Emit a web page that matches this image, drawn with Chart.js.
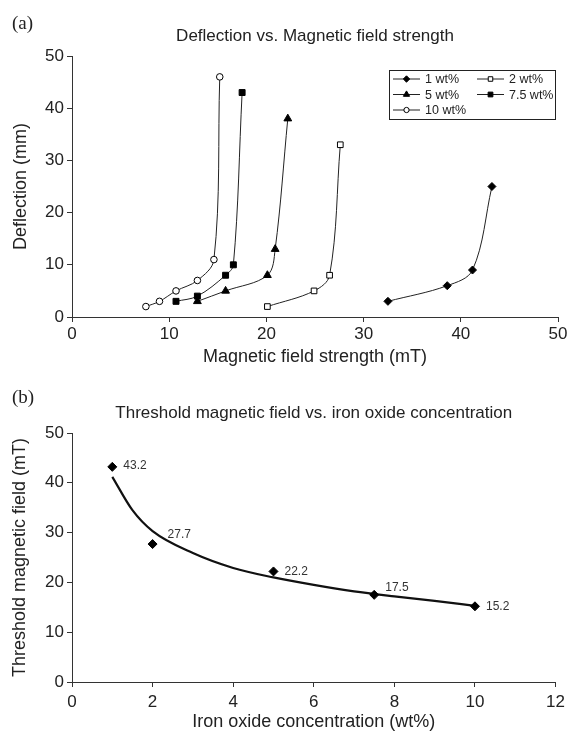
<!DOCTYPE html>
<html>
<head>
<meta charset="utf-8">
<script src="https://cdn.jsdelivr.net/npm/chart.js@4.4.1/dist/chart.umd.min.js"></script>
<style>
  body { margin: 0; background: #fff; }
  canvas { display: block; }
</style>
</head>
<body>
<canvas id="chartA" width="570" height="370"></canvas>
<canvas id="chartB" width="570" height="364"></canvas>
<script>
// (a) deflection vs field, one pair of arrays per concentration
const field1 = [32.5, 38.6, 41.2, 43.2];
const defl1 = [3, 6, 9, 25];
const field2 = [20.1, 24.9, 26.5, 27.6];
const defl2 = [2, 5, 8, 33];
const field5 = [12.9, 15.8, 20.1, 20.9, 22.2];
const defl5 = [3, 5, 8, 13, 38];
const field75 = [10.7, 12.9, 15.8, 16.6, 17.5];
const defl75 = [3, 4, 8, 10, 43];
const field10 = [7.6, 9.0, 10.7, 12.9, 14.6, 15.2];
const defl10 = [2, 3, 5, 7, 11, 46];
const seriesNames = ["1 wt%", "2 wt%", "5 wt%", "7.5 wt%", "10 wt%"];

// (b) threshold field vs concentration
const concentration = [1, 2, 5, 7.5, 10];
const thresholdField = [43.2, 27.7, 22.2, 17.5, 15.2];
const trendX = [1, 1.5, 2, 3, 4, 5, 6, 7, 8, 9, 10];
const trendY = [41.2, 34.5, 30.3, 25.9, 22.9, 21.0, 19.5, 18.2, 17.2, 16.3, 15.3];

const FONT = '"Liberation Sans", Arial, sans-serif';
const INK = "#222";
Chart.defaults.font.family = FONT;
Chart.defaults.color = INK;

const pairs = (xs, ys) => xs.map((x, i) => ({ x: x, y: ys[i] }));

// title + panel tag drawn above the plot area
const headerPlugin = {
  id: "header",
  afterDraw(chart, args, opts) {
    const ctx = chart.ctx;
    const area = chart.chartArea;
    ctx.save();
    ctx.fillStyle = INK;
    ctx.textBaseline = "alphabetic";
    ctx.textAlign = "center";
    ctx.font = "17px " + FONT;
    ctx.fillText(opts.text, (area.left + area.right) / 2, area.top - 15);
    ctx.textAlign = "left";
    ctx.font = '19px "Liberation Serif", "Times New Roman", serif';
    ctx.fillText(opts.tag, 12, opts.tagY);
    ctx.restore();
  }
};

// boxed legend, two columns, like the original
const boxLegend = {
  id: "boxLegend",
  afterDraw(chart, args, opts) {
    if (!opts.display) return;
    const ctx = chart.ctx;
    ctx.save();
    ctx.strokeStyle = INK;
    ctx.lineWidth = 1;
    ctx.strokeRect(389.5, 70.5, 166, 49);
    ctx.font = "12.5px " + FONT;
    ctx.textBaseline = "middle";
    chart.data.datasets.forEach((ds, i) => {
      const col = i % 2, row = Math.floor(i / 2);
      const x0 = col === 0 ? 393 : 477;
      const y = 79 + row * 15.5;
      ctx.beginPath();
      ctx.strokeStyle = INK;
      ctx.moveTo(x0, y);
      ctx.lineTo(x0 + 27, y);
      ctx.stroke();
      ctx.fillStyle = ds.pointBackgroundColor;
      ctx.strokeStyle = ds.pointBorderColor;
      Chart.helpers.drawPoint(ctx, {
        pointStyle: ds.pointStyle,
        radius: ds.pointRadius * 0.8,
        rotation: 0,
        borderWidth: 1
      }, x0 + 13.5, y);
      ctx.fillStyle = INK;
      ctx.fillText(ds.label, x0 + 32, y + 1);
    });
    ctx.restore();
  }
};

function seriesStyle(label, data, style, filled, radius) {
  return {
    label: label,
    data: data,
    showLine: true,
    tension: 0.35,
    borderColor: INK,
    borderWidth: 1,
    pointStyle: style,
    pointRadius: radius,
    pointHoverRadius: radius,
    pointBorderWidth: 1,
    pointBorderColor: "#000",
    pointBackgroundColor: filled ? "#000" : "#fff"
  };
}

function axis(min, max, step, title, isX, tickPad, titlePad, fitSize) {
  return {
    type: "linear",
    min: min,
    max: max,
    ticks: { stepSize: step, padding: tickPad, color: INK, font: { size: 17 } },
    grid: { drawOnChartArea: false, drawTicks: true, tickLength: 5, color: "#333" },
    border: { display: true, color: "#333", width: 1 },
    title: {
      display: true,
      text: title,
      color: INK,
      font: { size: 18 },
      padding: isX ? { top: 0, bottom: titlePad } : { top: titlePad, bottom: 0 }
    },
    afterFit: isX ? (s => { s.height = fitSize; }) : (s => { s.width = fitSize; })
  };
}

new Chart(document.getElementById("chartA"), {
  type: "scatter",
  data: {
    datasets: [
      seriesStyle(seriesNames[0], pairs(field1, defl1), "rectRot", true, 4),
      seriesStyle(seriesNames[1], pairs(field2, defl2), "rect", false, 4),
      seriesStyle(seriesNames[2], pairs(field5, defl5), "triangle", true, 4.5),
      seriesStyle(seriesNames[3], pairs(field75, defl75), "rect", true, 4.2),
      seriesStyle(seriesNames[4], pairs(field10, defl10), "circle", false, 3.3)
    ]
  },
  options: {
    responsive: false,
    animation: false,
    layout: { padding: { top: 56, right: 11, left: 0, bottom: 0 } },
    scales: {
      x: axis(0, 50, 10, "Magnetic field strength (mT)", true, 2.5, 2, 53),
      y: axis(0, 50, 10, "Deflection (mm)", false, 3, 10, 72)
    },
    plugins: {
      legend: { display: false },
      tooltip: { enabled: false },
      header: { text: "Deflection vs. Magnetic field strength", tag: "(a)", tagY: 29 },
      boxLegend: { display: true }
    }
  },
  plugins: [headerPlugin, boxLegend]
});

// value labels next to each threshold point
const labelDx = [11, 15, 11, 11, 11];
const labelDy = [-1, -9, 0, -7, 0];
const pointLabels = {
  id: "pointLabels",
  afterDatasetsDraw(chart) {
    const ctx = chart.ctx;
    const meta = chart.getDatasetMeta(0);
    ctx.save();
    ctx.font = "12px " + FONT;
    ctx.fillStyle = "#333";
    ctx.textBaseline = "middle";
    ctx.textAlign = "left";
    meta.data.forEach((pt, i) => {
      ctx.fillText(thresholdField[i].toFixed(1), pt.x + labelDx[i], pt.y + labelDy[i]);
    });
    ctx.restore();
  }
};

new Chart(document.getElementById("chartB"), {
  type: "scatter",
  data: {
    datasets: [
      {
        label: "Threshold",
        data: pairs(concentration, thresholdField),
        showLine: false,
        pointStyle: "rectRot",
        pointRadius: 4.5,
        pointHoverRadius: 4.5,
        pointBorderWidth: 1,
        pointBorderColor: "#000",
        pointBackgroundColor: "#000"
      },
      {
        label: "Trend",
        data: pairs(trendX, trendY),
        showLine: true,
        cubicInterpolationMode: "monotone",
        borderColor: "#111",
        borderWidth: 2.2,
        pointRadius: 0,
        pointHoverRadius: 0
      }
    ]
  },
  options: {
    responsive: false,
    animation: false,
    layout: { padding: { top: 63, right: 12, left: 0, bottom: 0 } },
    scales: {
      x: axis(0, 12, 2, "Iron oxide concentration (wt%)", true, 5, 1.5, 52),
      y: axis(0, 50, 10, "Threshold magnetic field (mT)", false, 3, 9, 72)
    },
    plugins: {
      legend: { display: false },
      tooltip: { enabled: false },
      header: { text: "Threshold magnetic field vs. iron oxide concentration", tag: "(b)", tagY: 33 }
    }
  },
  plugins: [headerPlugin, pointLabels]
});
</script>
</body>
</html>
